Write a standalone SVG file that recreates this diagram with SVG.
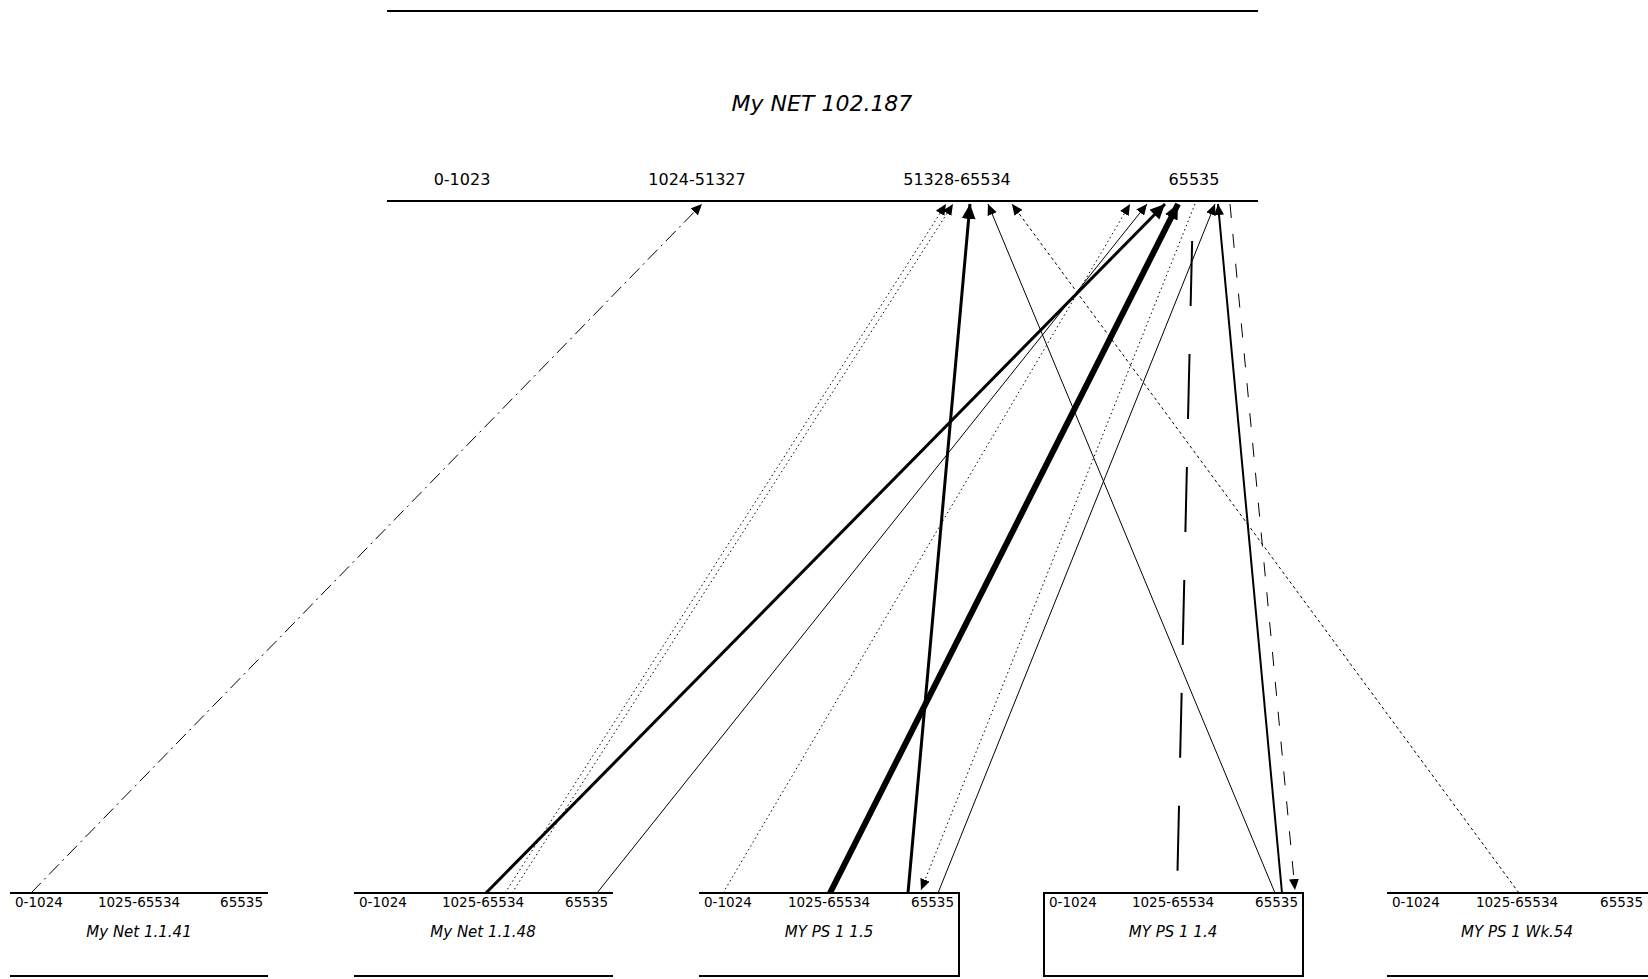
<svg xmlns="http://www.w3.org/2000/svg" width="1648" height="979" viewBox="0 0 1648 979">
<style>
text{font-family:"DejaVu Sans","Liberation Sans",sans-serif;fill:#000}
.title{font-size:22px;font-style:italic}
.tp{font-size:16px;text-anchor:middle}
.bp{font-size:13.5px}
.nm{font-size:15px;font-style:italic;text-anchor:middle}
.ln{stroke:#000;stroke-width:2;fill:none}
.c{fill:none;stroke:#000;stroke-width:1}
.dot{stroke-dasharray:1.5 3}
.sd{stroke-dasharray:3 3}
.dd{stroke-dasharray:14 5 2 5}
.md{stroke-dasharray:14 16}
.ld{stroke-dasharray:65 48;stroke-dashoffset:76}
.w2{stroke-width:2}
.w3{stroke-width:3}
.w6{stroke-width:6}
</style>
<defs>
<marker id="a" markerUnits="userSpaceOnUse" markerWidth="12" markerHeight="10" refX="11" refY="5" orient="auto"><path d="M0,0 L11,5 L0,10 z" fill="#000"/></marker>
<marker id="b" markerUnits="userSpaceOnUse" markerWidth="16" markerHeight="14" refX="15" refY="7" orient="auto"><path d="M0,0 L15,7 L0,14 z" fill="#000"/></marker>
</defs>
<rect width="1648" height="979" fill="#fff"/>
<g id="connectors">
<path class="c dd" d="M31,893 L702,204" marker-end="url(#a)"/>
<path class="c dot" d="M505,893 L946,204" marker-end="url(#a)"/>
<path class="c dot" d="M512,893 L953,204" marker-end="url(#a)"/>
<path class="c w3" d="M486,893 L1165,204" marker-end="url(#b)"/>
<path class="c" d="M597,893 L1147,204" marker-end="url(#a)"/>
<path class="c dot" d="M723,893 L1130,204" marker-end="url(#a)"/>
<path class="c w6" d="M830,893 L1178,204" marker-end="url(#b)"/>
<path class="c w3" d="M908,893 L970,204" marker-end="url(#b)"/>
<path class="c dot" d="M1195,204 L921,890" marker-end="url(#a)"/>
<path class="c" d="M938,893 L1215,204" marker-end="url(#a)"/>
<path class="c" d="M1275,893 L988,204" marker-end="url(#a)"/>
<path class="c w2" d="M1282,893 L1218,204" marker-end="url(#a)"/>
<path class="c md" d="M1230,204 L1295,890" marker-end="url(#a)"/>
<path class="c ld w2" d="M1193,204 L1177,893"/>
<path class="c sd" d="M1519,893 L1012,204" marker-end="url(#a)"/>
</g>
<g id="top-node">
<line class="ln" x1="387" y1="11" x2="1258" y2="11"/>
<line class="ln" x1="387" y1="201" x2="1258" y2="201"/>
<text class="title" x="822" y="111" text-anchor="middle">My NET 102.187</text>
<text class="tp" x="462" y="185">0-1023</text>
<text class="tp" x="697" y="185">1024-51327</text>
<text class="tp" x="957" y="185">51328-65534</text>
<text class="tp" x="1194" y="185">65535</text>
</g>
<g id="node1">
<line class="ln" x1="10" y1="893" x2="268" y2="893"/>
<line class="ln" x1="10" y1="976" x2="268" y2="976"/>
<text class="bp" x="15" y="907">0-1024</text>
<text class="bp" x="139" y="907" text-anchor="middle">1025-65534</text>
<text class="bp" x="263" y="907" text-anchor="end">65535</text>
<text class="nm" x="139" y="937">My Net 1.1.41</text>
</g>
<g id="node2">
<line class="ln" x1="354" y1="893" x2="613" y2="893"/>
<line class="ln" x1="354" y1="976" x2="613" y2="976"/>
<text class="bp" x="359" y="907">0-1024</text>
<text class="bp" x="483" y="907" text-anchor="middle">1025-65534</text>
<text class="bp" x="608" y="907" text-anchor="end">65535</text>
<text class="nm" x="483" y="937">My Net 1.1.48</text>
</g>
<g id="node3">
<path class="ln" d="M699,893 H959 V976 H699"/>
<text class="bp" x="704" y="907">0-1024</text>
<text class="bp" x="829" y="907" text-anchor="middle">1025-65534</text>
<text class="bp" x="954" y="907" text-anchor="end">65535</text>
<text class="nm" x="829" y="937">MY PS 1 1.5</text>
</g>
<g id="node4">
<rect class="ln" x="1044" y="893" width="259" height="83"/>
<text class="bp" x="1049" y="907">0-1024</text>
<text class="bp" x="1173" y="907" text-anchor="middle">1025-65534</text>
<text class="bp" x="1298" y="907" text-anchor="end">65535</text>
<text class="nm" x="1173" y="937">MY PS 1 1.4</text>
</g>
<g id="node5">
<line class="ln" x1="1387" y1="893" x2="1648" y2="893"/>
<line class="ln" x1="1387" y1="976" x2="1648" y2="976"/>
<text class="bp" x="1392" y="907">0-1024</text>
<text class="bp" x="1517" y="907" text-anchor="middle">1025-65534</text>
<text class="bp" x="1643" y="907" text-anchor="end">65535</text>
<text class="nm" x="1517" y="937">MY PS 1 Wk.54</text>
</g>
</svg>
